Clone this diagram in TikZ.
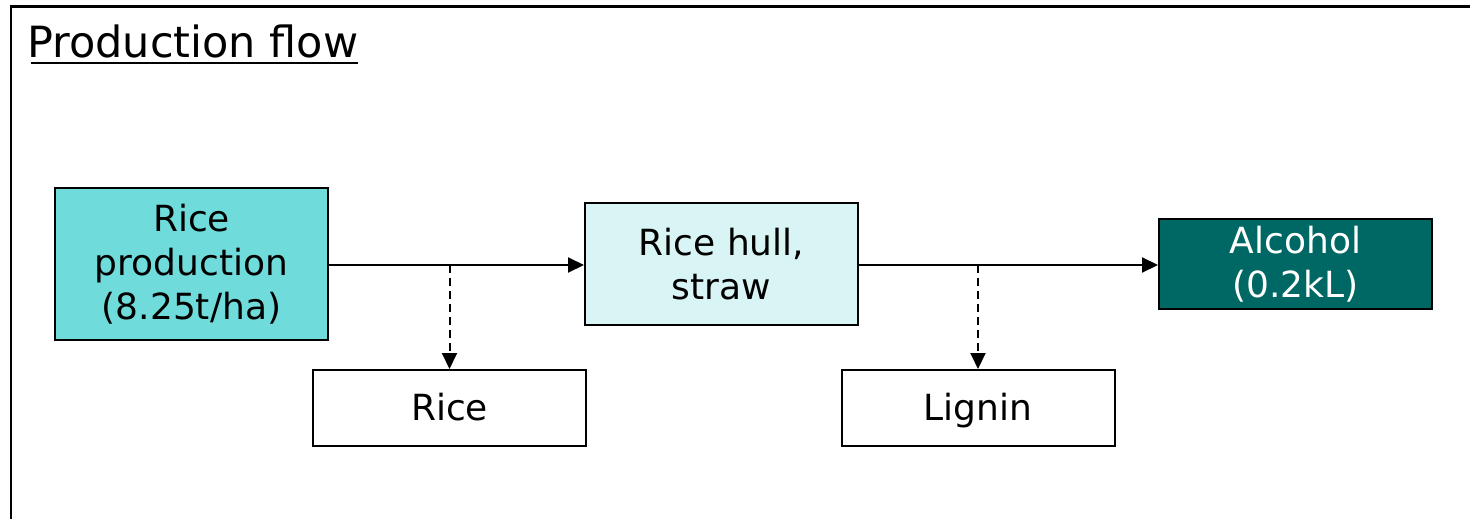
\documentclass[tikz,border=0pt]{standalone}
\usepackage{fontspec}
\setmainfont{DejaVu Sans}
\usetikzlibrary{arrows.meta}
\definecolor{riceprod}{RGB}{111,220,219}
\definecolor{hullfill}{RGB}{216,244,244}
\definecolor{alcfill}{RGB}{0,104,100}
\tikzset{
  box/.style={draw=black, line width=2pt, inner sep=0pt, align=center,
    font=\fontsize{36}{44}\selectfont},
  onebox/.style={box, fill=white, minimum width=273pt, minimum height=76pt,
    text height=26pt, text depth=2pt},
  flow/.style={line width=2pt, -{Triangle[length=16pt,width=15pt]}},
  side/.style={flow, dash pattern=on 8pt off 5pt},
}
\begin{document}
\begin{tikzpicture}[x=1pt,y=-1pt]
  \useasboundingbox (0,0) rectangle (1470,519);
  \fill[white] (0,0) rectangle (1470,519);
  % slide frame (left and top edges)
  \draw[line width=2.5pt] (11,519) -- (11,6.5) -- (1470,6.5);
  % title
  \node[anchor=base west, inner sep=0pt, font=\fontsize{43}{50}\selectfont]
    (title) at (27,58) {Production flow};
  \draw[line width=2pt] ([xshift=3.5pt,yshift=-5pt]title.base west) -- ([yshift=-5pt]title.base east);
  % process boxes
  \node[box, fill=riceprod, minimum width=273pt, minimum height=152pt]
    (prod) at (191.5,264) {Rice\\production\\(8.25t/ha)};
  \node[box, fill=hullfill, minimum width=273pt, minimum height=122pt]
    (hull) at (721.5,264) {Rice hull,\\straw};
  \node[box, fill=alcfill, text=white, minimum width=273pt, minimum height=90pt]
    (alc) at (1295.5,264) {Alcohol\\(0.2kL)};
  \node[onebox] (rice) at (449.5,408) {Rice};
  \node[onebox] (lignin) at (978,408) {Lignin};
  % branch points on the main line
  \coordinate (b1) at (449.5,265);
  \coordinate (b2) at (978,265);
  % connectors
  \draw[flow] (prod.east |- b1) -- (hull.west |- b1);
  \draw[flow] (hull.east |- b2) -- (alc.west |- b2);
  \draw[side] (b1) -- (rice.north);
  \draw[side] (b2) -- (lignin.north);
\end{tikzpicture}
\end{document}
